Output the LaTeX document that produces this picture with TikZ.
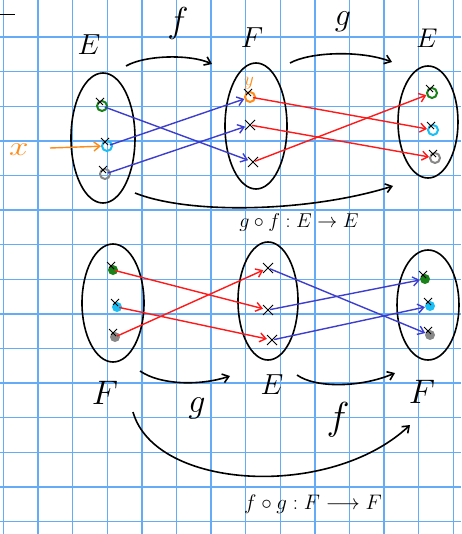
\RequirePackage{fix-cm}
\documentclass[tikz,border=0pt]{standalone}
\usepackage{fontspec}
\usetikzlibrary{arrows.meta,shapes.geometric}
\definecolor{gridblue}{RGB}{100,172,245}
\definecolor{pblue}{RGB}{62,62,205}
\definecolor{pred}{RGB}{255,25,25}
\definecolor{pgreen}{RGB}{25,130,25}
\definecolor{pcyan}{RGB}{25,190,245}
\definecolor{pgray}{RGB}{135,135,135}
\definecolor{porange}{RGB}{255,140,25}
\begin{document}
\begin{tikzpicture}[x=1pt,y=-1pt,
  gridline/.style={draw=gridblue,line width=1.4pt},
  setshape/.style={ellipse,draw=black,line width=1.6pt,inner sep=0pt,minimum width=#1},
  ring/.style={circle,draw=#1,line width=2pt,minimum size=10pt,inner sep=0pt},
  dot/.style={circle,fill=#1,minimum size=10pt,inner sep=0pt},
  plainpt/.style={circle,minimum size=10pt,inner sep=0pt},
  xcross/.style={draw=black,line width=1pt},
  tip/.style={-{Straight Barb[length=6pt,width=9pt]}},
  farrow/.style={tip,draw=pblue,line width=1.4pt,shorten <=-3pt},
  garrow/.style={tip,draw=pred,line width=1.4pt,shorten <=-3pt},
  maparrow/.style={tip,draw=black,line width=1.6pt},
  lbl/.style={inner sep=0pt,text=black,font=\fontsize{20}{20}\selectfont,scale=#1},
  lbl/.default=1]
\useasboundingbox (0,0) rectangle (461,534);
\fill[white] (0,0) rectangle (461,534);
% grid
\foreach \i in {0,...,13} \draw[gridline] ({3.5+34.6*\i},0) -- ({3.5+34.6*\i},534);
\foreach \j in {1,...,15} \draw[gridline] (0,{2.5+34.6*\j}) -- (461,{2.5+34.6*\j});
\draw[line width=1.2pt] (0,14.5) -- (15,14.5);

% sets
\node[setshape=64pt,minimum height=130pt] (SE1) at (103,138) {};
\node[setshape=62pt,minimum height=126pt] (SF1) at (256,126) {};
\node[setshape=60pt,minimum height=112pt] (SE2) at (428,122) {};
\node[setshape=62pt,minimum height=118pt] (SF3) at (113,303) {};
\node[setshape=60pt,minimum height=118pt] (SE3) at (268,301) {};
\node[setshape=62pt,minimum height=110pt] (SF4) at (428,305) {};

% points top
\node[ring=pgreen] (e1) at (102,106) {};
\node[ring=pcyan]  (e2) at (107,146) {};
\node[ring=pgray]  (e3) at (105,174) {};
\node[ring=porange] (f1) at (250,97) {};
\node[plainpt] (f2) at (250,125) {};
\node[plainpt] (f3) at (253,162) {};
\node[ring=pgreen] (r1) at (432,93) {};
\node[ring=pcyan]  (r2) at (433,130) {};
\node[ring=pgray]  (r3) at (435,158) {};
% points bottom
\node[dot=pgreen] (b1) at (113,270) {};
\node[dot=pcyan]  (b2) at (117,307) {};
\node[dot=pgray]  (b3) at (115,337) {};
\node[plainpt] (m1) at (268,268) {};
\node[plainpt] (m2) at (268,310) {};
\node[plainpt] (m3) at (272,340) {};
\node[dot=pgreen] (q1) at (425,279) {};
\node[dot=pcyan]  (q2) at (430,306) {};
\node[dot=pgray]  (q3) at (430,335) {};

% crosses
\foreach \p in {e1,e2,e3,f1,r1,r2,r3,b1,b2,b3,q1,q2,q3}
  \draw[xcross] (\p) ++(-6,-8) -- ++(7,7) (\p) ++(2,-8) -- ++(-6,6);
\foreach \p in {f2,f3,m1,m2,m3}
  \draw[xcross] (\p) ++(-5,-5) -- ++(10,10) (\p) ++(5,-5) -- ++(-10,10);

% f : E -> F (top)
\draw[farrow] (e1) -- (f3);
\draw[farrow] (e2) -- (f1);
\draw[farrow] (e3) -- (f2);
% g : F -> E (top)
\draw[garrow] (f1) -- (r2);
\draw[garrow] (f2) -- (r3);
\draw[garrow] (f3) -- (r1);
% g : F -> E (bottom)
\draw[garrow] (b1) -- (m2);
\draw[garrow] (b2) -- (m3);
\draw[garrow] (b3) -- (m1);
% f : E -> F (bottom)
\draw[farrow] (m1) -- (q3);
\draw[farrow] (m2) -- (q1);
\draw[farrow] (m3) -- (q2);

% orange x
\coordinate (xs) at (50,148);
\node[lbl=1.35,text=porange,xscale=1.3] (xl) at (19,150) {$x$};
\draw[tip,draw=porange,line width=1.4pt] (xs) -- (e2);
\node[lbl=0.95,text=porange] (yl) at (249,83) {$y$};

% map arrows
\coordinate (a1s) at (126,66); \coordinate (a1e) at (212,64);
\coordinate (a2s) at (290,63); \coordinate (a2e) at (392,62);
\coordinate (a3s) at (135,193); \coordinate (a3e) at (393,186);
\coordinate (a4s) at (140,371); \coordinate (a4e) at (230,376);
\coordinate (a5s) at (297,375); \coordinate (a5e) at (395,373);
\coordinate (a6s) at (133,412); \coordinate (a6e) at (410,425);
\draw[maparrow] (a1s) .. controls (145,55) and (190,54) .. (a1e);
\draw[maparrow] (a2s) .. controls (310,52) and (360,50) .. (a2e);
\draw[maparrow] (a3s) .. controls (190,215) and (310,212) .. (a3e);
\draw[maparrow] (a4s) .. controls (160,385) and (200,386) .. (a4e);
\draw[maparrow] (a5s) .. controls (315,388) and (360,388) .. (a5e);
\draw[maparrow] (a6s) .. controls (155,490) and (330,500) .. (a6e);

% labels
\node[lbl=1.45] (lE1) at (89,45) {$E$};
\node[lbl=1.8] (lf1) at (178,24) {$f$};
\node[lbl=1.45] (lF1) at (252,38) {$F$};
\node[lbl=1.6] (lg1) at (343,22) {$g$};
\node[lbl=1.35] (lE2) at (427,38) {$E$};
\node[lbl=1.0] (c1) at (299,222) {$g\circ f : E \to E$};
\node[lbl=1.7] (lF3) at (105,393) {$F$};
\node[lbl=1.45] (lE3) at (272,385) {$E$};
\node[lbl=1.7] (lF4) at (422,392) {$F$};
\node[lbl=1.7] (lg2) at (197,408) {$g$};
\node[lbl=1.95] (lf2) at (338,420) {$f$};
\node[lbl=1.05] (c2) at (313,504) {$f\circ g : F \longrightarrow F$};
\end{tikzpicture}
\end{document}
